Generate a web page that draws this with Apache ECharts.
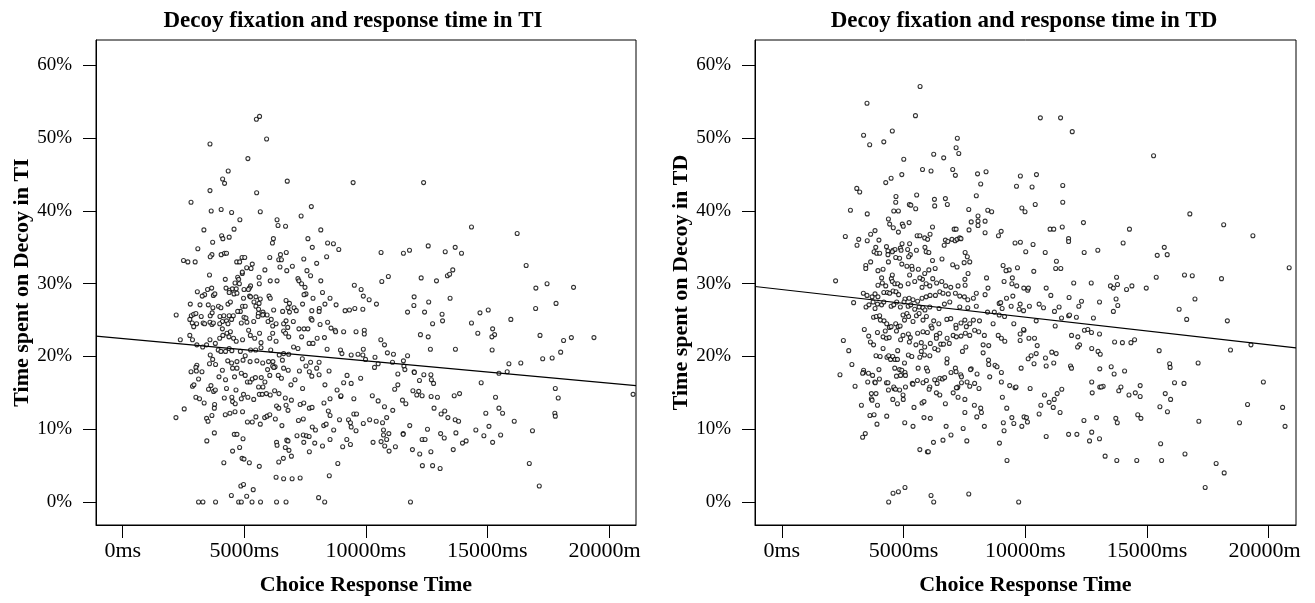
<!DOCTYPE html>
<html><head><meta charset="utf-8">
<script src="https://cdn.jsdelivr.net/npm/echarts@6/dist/echarts.min.js"></script>
<style>
html,body{margin:0;padding:0;background:#fff;width:1315px;height:603px;overflow:hidden;position:relative}
#ti{position:absolute;left:0;top:0;width:641px;height:603px;overflow:hidden}
#td{position:absolute;left:655px;top:0;width:646px;height:603px;overflow:hidden}
</style></head><body><div id="ti"></div><div id="td"></div>
<script>
const xTicks=[0,5000,10000,15000,20000];
const yTicks=[0,10,20,30,40,50,60];
const xRange=[-1100,21120];
const yRange=[-3.16,63.5];
const titles=['Decoy fixation and response time in TI','Decoy fixation and response time in TD'];
const yNames=['Time spent on Decoy in TI','Time spent on Decoy in TD'];
const xName='Choice Response Time';
const tiFit={intercept:22.47,slope:-0.000307};
const tdFit={intercept:29.2,slope:-0.00038};
const tiPoints=[
[5500,52.6],[5630,53.0],[5920,49.9],[3590,49.2],[5150,47.2],[4340,45.5],[4110,44.4],[4190,43.8],[6770,44.1],[9480,43.9],[3590,42.8],[5510,42.5],[2810,41.2],[3640,40.0],[4050,40.2],[4480,39.8],[5660,39.9],[7760,40.6],[7340,39.3],[4820,38.8],[6350,38.8],[6390,38.0],[6700,37.9],[3340,37.4],[4580,37.5],[8150,37.4],[4070,36.6],[4120,36.2],[4380,36.4],[3700,35.7],[6200,36.2],[6160,35.6],[7620,36.2],[8430,35.6],[8670,35.5],[7800,35.0],[8890,34.7],[3090,34.8],[3670,34.0],[3600,33.7],[4050,34.0],[4190,34.2],[4270,34.2],[2500,33.2],[2680,33.0],[2980,33.0],[6050,33.6],[6490,34.0],[6730,34.3],[6420,33.3],[6530,33.3],[7450,33.4],[8390,33.7],[4910,33.6],[5020,33.6],[4690,33.0],[4810,33.0],[5330,32.7],[4920,31.4],[4920,31.6],[5100,32.2],[5280,32.1],[6470,32.3],[6980,32.4],[6750,31.8],[5850,31.9],[7980,32.8],[7580,31.8],[7730,31.1],[3570,31.2],[4220,30.6],[4730,30.9],[4770,30.6],[5610,30.9],[7210,30.7],
[12380,43.9],[14350,37.8],[16230,36.9],[10630,34.3],[11550,34.2],[11800,34.6],[12570,35.2],[13270,34.4],[13680,35.0],[13940,34.2],[16600,32.5],[10930,31.0],[12280,30.8],[13360,31.1],[13450,31.3],[13580,31.9],
[4620,30.1],[4800,30.0],[5260,29.7],[5210,29.4],[5620,30.0],[6070,30.4],[6350,30.4],[7250,30.4],[7500,29.5],[7360,30.0],[8150,30.4],[9530,29.8],[3660,29.4],[3490,29.2],[3070,28.9],[3370,28.5],[3270,28.3],[3730,28.4],[3790,28.6],[4250,29.4],[4400,29.1],[4510,29.3],[4670,29.3],[4380,28.8],[4580,28.6],[4700,28.7],[4990,29.2],[5170,29.2],[5220,28.3],[5260,28.2],[4970,28.0],[5480,28.2],[5660,27.9],[6020,28.3],[6070,28.0],[7830,28.0],[8220,28.8],[8530,28.0],[7540,28.6],[7460,28.5],
[2780,27.2],[3180,27.1],[3520,27.1],[3710,26.7],[3940,26.9],[4040,26.7],[4330,27.2],[4430,27.5],[4930,26.9],[5040,26.9],[4840,26.2],[4730,26.2],[4990,25.4],[5400,27.5],[5610,27.3],[5480,26.9],[5590,26.5],[5770,26.1],[5580,25.9],[5800,25.8],[5940,25.7],[6210,26.4],[6580,26.2],[6720,27.7],[6860,27.3],[6800,26.7],[6860,26.1],[7050,26.7],[7140,26.3],[7400,27.2],[7780,26.3],[8090,26.6],[8080,26.2],[8320,27.2],[8780,27.1],[9150,26.3],[9330,26.4],[9550,26.6],[2200,25.7],[2820,25.6],[2920,25.8],[3010,25.9],[3230,25.5],[3600,25.6],[3680,26.0],[4000,25.5],[4160,25.6],[4380,25.6],[4550,25.6],[4480,25.1],[4270,24.9],[4330,24.5],[4100,24.8],[3990,24.5],[4100,23.8],[3590,24.7],[3670,24.4],[3730,24.6],[3310,24.6],[3370,24.5],[3040,24.5],[2760,25.1],[2860,24.6],[2920,24.1],[4880,24.6],[5070,25.3],[5110,24.7],[5390,24.8],[5570,25.5],[5760,25.7],[5980,24.8],[6110,25.1],[6170,24.2],[6310,24.5],[6620,24.5],[6620,23.5],[6720,24.9],[6790,24.0],[7020,24.8],[7250,23.8],[7460,23.8],[7620,23.8],[7750,25.2],[7790,25.0],[8120,24.4],[8430,24.7],[8570,23.9],[8740,23.6],[8760,23.4],[9090,23.4],[9600,23.4],
[2370,22.3],[2870,22.3],[2760,22.9],[3050,21.6],[3290,21.3],[3450,21.6],[3590,22.3],[3810,21.8],[3990,22.5],[4120,22.9],[4290,23.2],[4430,23.4],[4370,22.7],[4560,22.5],[4670,22.1],[4930,22.3],[5180,23.6],[5250,22.9],[5430,22.5],[5630,23.2],[5690,21.9],[6050,22.5],[6170,23.2],[6310,22.1],[6700,23.2],[6830,22.7],[7030,21.3],[7210,21.1],[7360,22.7],[7670,21.8],[7830,21.8],[8000,22.5],[8300,22.6],[8410,21.0],[8960,20.9],[9020,20.4],[9400,20.2],[9680,20.3],
[3600,20.2],[3700,19.6],[3930,20.9],[4040,20.7],[4230,20.7],[4380,21.1],[4490,20.8],[4840,20.7],[5040,20.1],[5260,20.9],[5470,20.9],[5690,21.2],[6090,20.9],[6440,20.2],[6620,20.4],[6830,20.3],[3050,18.8],[3010,18.5],[3820,18.9],[3570,19.0],[4320,19.4],[4480,19.1],[4700,19.3],[4950,19.5],[5240,19.3],[5520,19.4],[5760,19.1],[6000,19.3],[6180,19.3],[6270,18.6],[6570,19.5],[7390,19.7],[7730,19.2],[8080,19.2],
[2810,17.9],[3030,18.0],[3260,17.9],[3120,16.9],[2870,15.9],[2930,16.1],[3530,15.5],[3740,15.2],[3630,16.0],[3810,15.4],[3960,17.2],[4100,18.1],[4230,16.8],[4270,15.6],[4520,18.4],[4600,17.2],[4700,18.4],[4880,17.7],[5040,17.4],[5130,16.5],[5240,16.5],[5330,16.9],[5460,17.1],[5700,17.1],[5770,15.8],[5590,15.8],[5850,16.5],[6170,18.7],[6220,18.5],[5960,18.2],[6050,17.4],[6400,17.4],[6530,17.0],[6620,18.4],[6810,18.1],[6920,16.1],[7090,16.8],[7270,18.0],[7400,15.6],[7540,18.7],[7680,17.9],[7780,17.3],[7980,18.4],[8080,17.5],[8320,16.1],[8490,18.0],[8530,14.2],[8820,15.4],[8970,14.5],[9090,16.4],[9230,17.4],[9400,16.3],[9510,14.2],
[3010,14.4],[3160,14.2],[3350,13.6],[3780,13.4],[3770,12.9],[4180,14.3],[4520,13.8],[4630,13.5],[4490,14.4],[4660,15.4],[4880,14.2],[4970,14.8],[5150,14.4],[5390,14.1],[5620,14.8],[5740,14.8],[5910,14.9],[6070,14.7],[6250,15.3],[6430,14.9],[6690,14.3],[6330,13.2],[6420,12.9],[6720,13.3],[6800,12.6],[6940,14.0],[7300,13.4],[7450,13.6],[7680,12.9],[7790,13.0],[8280,13.6],[8460,12.5],[8980,14.6],[9510,12.1],[9620,12.1],
[2190,11.6],[2530,12.8],[3450,11.5],[3510,11.1],[3670,11.9],[4220,12.0],[4410,12.2],[4620,12.4],[4930,12.4],[5130,11.0],[5330,11.0],[5480,11.7],[5660,10.7],[5840,11.6],[5940,11.8],[6050,12.0],[6280,11.4],[6550,10.5],[7230,11.2],[7430,11.4],[7800,10.3],[7930,9.9],[8270,10.5],[8370,10.7],[8530,11.9],[8680,9.9],[8920,11.3],[9290,11.3],[9370,10.9],[9400,10.3],[9600,9.8],
[3460,8.4],[3770,9.5],[4590,9.3],[4700,9.3],[4950,8.7],[4810,7.5],[4520,7.0],[4160,5.4],[4910,6.0],[4990,5.9],[5210,5.4],[5620,4.9],[6330,8.2],[6350,7.8],[6750,8.5],[6800,8.4],[6690,7.5],[6840,7.1],[6940,6.3],[6610,6.0],[6420,5.5],[7170,9.1],[7430,9.2],[7560,9.1],[7670,9.0],[7450,8.2],[7680,6.9],[7900,8.1],[8220,7.7],[8530,8.6],[9220,8.6],[9370,7.9],[9050,7.6],[8850,5.3],[8500,3.6],[6310,3.4],[6620,3.2],[6970,3.2],[7300,3.3],[4860,2.2],[4970,2.4],[5370,1.7],[4470,0.9],[5100,0.8],[3120,0],[3300,0],[3820,0],[4770,0],[4880,0],[5320,0],[5670,0],[6330,0],[6720,0],[8060,0.6],[8310,0],
[10660,30.3],[12910,30.4],[17000,29.4],[17460,30.0],[18550,29.5],[9810,29.2],[9900,28.3],[10140,27.8],[10440,27.2],[9880,26.5],[11990,28.2],[11980,27.0],[12590,27.5],[13470,28.0],[11720,26.1],[12420,26.1],[13140,25.8],[13160,24.9],[12750,24.5],[14350,24.6],[14700,26.0],[15040,26.4],[14610,23.2],[15220,23.8],[15300,23.0],[15190,22.7],[15970,25.1],[16990,26.6],[17830,27.3],[17170,22.9],[18140,22.2],[18460,22.6],[19390,22.6],[18020,20.6],[17670,19.8],[17280,19.7],[16380,19.1],[15890,19.0],
[9940,23.6],[9940,23.1],[10620,22.3],[10770,21.6],[9900,21.0],[10890,20.5],[11140,20.3],[11720,20.1],[9880,20.2],[10380,19.9],[9990,19.6],[10510,19.0],[10360,18.5],[11100,19.2],[11550,19.4],[11570,18.7],[11610,18.2],[11320,17.6],[11990,17.9],[12000,17.8],[12390,17.5],[12680,17.5],[12210,16.7],[12700,16.8],[12790,16.3],[12570,22.7],[12250,23.0],[12660,21.0],[13690,21.0],[15200,20.9],[15480,17.7],[15820,17.9],[14750,16.4],[9790,17.0],[17800,15.6],[17920,14.3],[21000,14.8],
[11320,16.1],[11190,15.5],[10270,14.6],[10510,13.9],[10770,13.1],[11110,12.6],[11510,14.0],[11650,13.5],[11940,15.3],[12180,15.2],[12100,14.7],[12320,14.6],[12690,14.5],[12950,14.4],[13640,14.6],[13860,14.9],[12810,12.9],[13100,12.1],[13250,12.5],[13380,11.6],[13680,11.3],[13820,11.1],[15340,14.4],[15480,12.9],[15630,12.2],[14940,12.2],[16110,11.1],[17780,12.2],[17800,11.8],
[9900,10.8],[10160,11.3],[10430,11.1],[10690,10.9],[10860,11.6],[11810,10.5],[11540,9.4],[11540,9.3],[12540,10.0],[10950,9.4],[10730,9.2],[10860,8.6],[10730,9.9],[10300,8.2],[10630,8.3],[10780,7.7],[10960,7.0],[11220,7.6],[12320,8.6],[12440,8.6],[13080,9.4],[13230,8.8],[13710,9.5],[14530,9.9],[15070,10.4],[14860,9.1],[15550,9.2],[15220,8.2],[14130,8.4],[13980,8.1],[13600,7.2],[11920,7.2],[12220,6.6],[12680,6.9],[12330,5.0],[12750,5.0],[13060,4.6],[16860,9.8],[16730,5.3],[17140,2.2],[11840,0]
];
const tdPoints=[
[5680,57.1],[3500,54.8],[5490,53.1],[4540,51.0],[3360,50.4],[3610,49.1],[4190,49.5],[7210,50.0],[7160,48.7],[7270,47.9],[6240,47.8],[6650,47.3],[5010,47.1],[5780,45.7],[6130,45.5],[7020,45.7],[7130,44.9],[4930,45.0],[4490,44.5],[4270,43.9],[8040,45.1],[8390,45.4],[8170,43.7],[3080,43.1],[3200,42.6],[4690,42.0],[5540,42.2],[7990,42.1],[4680,41.2],[5240,40.9],[5300,40.8],[5500,40.3],[6270,41.6],[6720,41.7],[6800,40.9],[6280,40.7],[2820,40.1],[3510,39.6],[4600,40.0],[4790,40.0],[7680,40.2],[8460,40.1],[8620,39.9],[8060,39.3],[7780,38.5],[8060,38.6],[8060,38.0],[8350,38.6],[4380,38.9],[4430,38.2],[4580,37.7],[4790,37.1],[4950,38.2],[4990,37.9],[5230,38.4],[6190,37.8],[7080,37.5],[7160,37.5],[7690,37.4],[8350,37.0],
[2610,36.5],[3160,36.1],[3510,35.9],[3830,37.3],[3650,36.8],[3990,36.0],[5560,36.6],[5670,36.6],[6090,36.8],[5870,36.3],[5990,36.1],[6990,36.1],[7120,35.9],[7200,36.1],[7310,36.3],[7360,36.2],[6720,36.0],[6820,35.8],[6670,35.3],[8900,36.6],[9010,37.2],[3090,35.3],[3860,35.0],[3790,34.4],[3900,34.2],[4300,35.1],[4360,34.5],[4570,34.6],[4650,34.7],[4870,34.9],[4940,35.5],[5250,35.5],[4900,34.6],[5170,34.7],[5280,34.0],[5210,33.7],[5530,34.6],[5880,35.0],[5930,34.4],[6040,34.3],[7530,34.3],[7620,33.7],[7720,33.0],[7490,32.9],[7020,32.6],[7200,32.3],[6580,33.4],[6300,32.1],[6190,33.2],[6040,31.9],[5870,31.4],[5610,32.0],[5340,32.4],[5360,32.0],[5140,32.4],[4930,32.7],[4840,33.5],[4680,33.6],[4540,34.4],[4360,34.0],[4380,33.0],[4020,34.2],[3950,31.8],[4160,32.0],[3450,32.5],[3450,32.1],[3650,33.0],[8410,30.8],[9090,32.5],[9340,31.9],[9210,31.8],[9680,32.2],[9640,43.4],[9580,35.6],[9470,30.8],[7650,31.4],[7520,30.6],[6200,30.7],[5780,30.6],[5670,30.8],[4500,30.7],[4100,30.8],[5250,31.2],[4540,31.2],
[2210,30.4],[3950,29.8],[4130,30.1],[4270,29.7],[4540,30.3],[4640,30.0],[4760,30.0],[4880,29.7],[5190,30.0],[5460,30.3],[5760,29.5],[5930,30.0],[6080,29.7],[6360,30.1],[6570,30.3],[6730,29.7],[6940,29.5],[7240,29.7],[7530,29.8],[7990,28.7],[8350,28.5],[8470,29.4],[9130,30.3],[9450,30.0],[9650,29.7],[3350,28.7],[3500,28.4],[3710,28.2],[3830,28.6],[3950,28.2],[4190,28.8],[4340,28.8],[4430,28.7],[4570,29.0],[4690,28.9],[4800,28.5],[5060,27.9],[5230,28.0],[5390,27.8],[5580,27.6],[5760,28.0],[5930,28.2],[6090,28.4],[6310,28.4],[6490,28.9],[6620,28.7],[6840,28.6],[7130,28.7],[7310,28.3],[7500,28.2],[7640,27.8],[7870,28.0],[2950,27.4],[3460,26.8],[3580,27.1],[3750,27.5],[3830,26.6],[3930,27.2],[4100,27.1],[4190,27.5],[4490,26.9],[4600,27.1],[4720,27.5],[4870,26.8],[5020,27.5],[5190,26.9],[5300,27.1],[5460,26.5],[5640,26.8],[5800,26.7],[5880,26.4],[6080,26.8],[6460,26.6],[6680,27.2],[6900,27.5],[7310,26.8],[7640,26.7],[7990,26.9],[8450,26.1],[8730,26.1],[8930,27.3],[9050,26.6],[9230,28.0],[9420,26.9],[9490,28.3],[9750,26.5],[8990,27.4],
[3390,23.7],[3570,22.8],[3640,22.0],[3770,21.6],[3770,25.4],[3880,25.5],[4020,25.6],[4050,25.0],[4200,24.9],[4250,23.5],[4310,24.5],[4420,24.0],[4490,24.1],[4680,24.5],[4780,24.1],[4860,24.2],[4980,25.7],[5040,25.0],[5140,25.9],[5210,25.5],[5390,24.8],[5530,25.6],[5640,25.9],[5800,25.0],[5940,25.5],[6130,24.2],[6240,24.9],[6450,24.5],[6780,25.1],[6940,25.2],[7150,24.3],[7160,23.9],[7360,24.6],[7520,25.0],[7580,24.1],[7720,24.5],[7870,25.0],[8120,24.9],[8680,24.5],[8930,25.7],[9150,25.5],[9530,24.5],[3930,23.3],[4160,22.7],[4300,22.5],[4410,22.6],[4710,23.5],[4980,22.9],[5200,23.1],[5280,22.6],[5580,23.2],[5800,23.4],[5980,23.3],[6170,23.9],[6350,22.9],[6490,23.2],[6790,22.5],[7040,22.9],[7170,22.7],[7360,22.8],[7540,23.2],[7720,22.9],[7920,23.6],[8090,23.4],[8320,22.9],[8270,21.6],[8500,21.5],[8890,22.9],[9020,22.5],[9160,22.1],[4880,22.3],[5240,22.0],[5510,21.6],[5730,21.9],[5870,21.3],[6100,21.8],[6350,22.5],
[2530,22.2],[2750,20.8],[2880,18.9],[2390,17.5],[3010,15.9],[3360,18.1],[3360,17.8],[3560,17.7],[3730,17.4],[3820,16.5],[3990,18.2],[3870,20.1],[4040,20.0],[4160,21.1],[4320,19.9],[4390,20.1],[4470,19.6],[4560,20.0],[4650,19.6],[4640,18.4],[4750,19.6],[4760,20.8],[4840,18.2],[4930,18.1],[5040,19.1],[5060,17.8],[4880,17.4],[5080,17.4],[5200,20.2],[5340,20.0],[5600,18.4],[5670,19.9],[5730,20.7],[5860,20.2],[5940,18.4],[5990,18.0],[6080,20.1],[6280,21.1],[6420,20.9],[6530,21.7],[6640,21.7],[6790,19.7],[6880,21.8],[6780,19.1],[6950,17.8],[7130,18.4],[7160,17.9],[7350,17.5],[7380,16.4],[7230,15.8],[7420,20.7],[7560,21.3],[7780,18.3],[8020,17.6],[8270,20.5],[8490,19.5],[8500,18.9],[8760,18.8],[8840,18.6],[9020,17.8],[8540,17.2],[9020,16.5],[9360,16.0],[9580,15.7],
[3320,17.7],[3530,16.5],[3680,14.9],[3840,16.4],[4010,16.9],[4300,16.4],[4360,16.4],[4610,15.6],[4710,17.3],[4840,15.4],[5080,15.8],[5360,16.3],[5390,16.2],[5570,16.7],[5800,16.4],[5940,16.7],[6080,15.8],[6280,16.8],[6380,16.3],[6490,17.0],[6600,16.9],[6690,17.1],[7040,15.0],[7200,15.7],[7380,17.2],[7610,16.5],[7720,15.9],[7920,16.3],[8100,15.6],
[3680,14.2],[3710,14.0],[3870,14.9],[3270,13.3],[3930,13.3],[4310,11.8],[3620,11.9],[3790,12.0],[3910,10.7],[4380,15.4],[4600,15.8],[4670,15.5],[4560,14.1],[4750,13.5],[4980,14.7],[4990,14.1],[5050,10.9],[5390,10.4],[5430,13.0],[5760,13.6],[5840,13.8],[5840,11.6],[6100,11.5],[6050,15.5],[6350,15.0],[6490,14.7],[6720,13.5],[6750,10.4],[6950,9.2],[6620,8.5],[6230,8.2],[5670,7.2],[5980,6.9],[6020,6.9],[7170,15.7],[7240,14.4],[7520,14.1],[7520,12.3],[7450,10.1],[7600,8.4],[7750,18.2],[7910,13.3],[8010,11.7],[8170,12.9],[8200,12.3],[8320,10.4],[8940,8.1],[9060,14.4],[9100,10.9],[9130,9.8],[9240,12.9],[9250,5.7],[9450,11.6],[9530,10.8],[9620,15.8],[3320,8.9],[3430,9.4],
[4390,0],[4570,1.2],[4790,1.4],[5060,2.0],[6130,0.9],[6240,0],[7680,1.1],[9730,0],
[10620,52.8],[11450,52.8],[11930,50.9],[15270,47.6],[9800,44.8],[10460,45.0],[10280,43.3],[11540,43.5],[11540,41.2],[9860,40.4],[9990,39.9],[10410,40.9],[16760,39.6],[18150,38.1],[19350,36.6],[12390,38.4],[11020,37.5],[11170,37.5],[11520,37.8],[14280,37.5],[11780,36.2],[11780,35.8],[9800,35.7],[10320,35.4],[10020,34.4],[10820,34.3],[12420,34.3],[12980,34.6],[14020,35.6],[15710,35.0],[15420,33.9],[15830,34.0],[11280,33.1],[11250,32.1],[11460,32.1],[10350,31.7],[20840,32.2],[15380,30.9],[16540,31.2],[16860,31.1],[18060,30.7],[13750,30.9],
[9940,29.4],[10100,29.1],[10130,29.4],[10860,29.4],[11050,28.4],[11990,30.1],[12710,30.1],[13500,29.7],[13620,29.4],[13790,29.9],[14160,29.2],[14380,29.7],[14970,29.4],[9790,27.2],[10170,26.9],[9930,26.3],[10570,27.2],[10750,26.7],[11200,26.2],[11390,26.8],[11800,28.1],[12200,26.9],[12310,27.6],[13050,27.5],[13730,27.9],[13800,27.0],[13620,26.2],[16970,27.9],[16320,26.5],[16630,25.1],[18300,24.9],[11490,25.3],[11780,25.6],[11820,25.7],[12100,25.4],[12800,25.3],[10450,24.9],[11230,24.2],[9950,23.6],[9930,23.7],[9790,23.1],[10150,22.5],[10380,22.5],[9790,22.2],[10490,21.5],[11900,22.9],[12160,22.7],[12430,23.6],[12570,23.7],[12720,23.3],[13050,23.1],[12230,21.6],[12150,21.3],[12730,21.1],[12990,20.7],[13080,20.3],[13670,22.0],[13990,21.9],[14340,21.9],[14490,22.3],[15500,20.8],[18430,20.9],[19270,21.6],
[10450,20.4],[10240,20.1],[10120,19.7],[11090,20.6],[11270,20.4],[10830,19.8],[10360,19.0],[10860,18.7],[11170,19.1],[9830,18.4],[11860,18.7],[11900,18.4],[13060,18.3],[13530,18.6],[13650,17.6],[14080,18.0],[15930,19.0],[15950,18.5],[17100,19.1],[16130,16.4],[16520,16.3],[19780,16.5],[12730,16.5],[12750,15.0],[13060,15.8],[13200,15.9],[13120,15.8],[13840,15.3],[13930,15.8],[14260,14.7],[14520,15.0],[14720,16.0],[14720,14.5],[10200,15.6],[10790,14.7],[11310,14.9],[11500,15.5],[10980,13.7],[11190,14.1],[11150,13.0],[10640,13.3],[10570,12.1],[11430,12.3],[9950,11.7],[10050,11.6],[10090,11.0],[9860,10.4],[12410,11.2],[12930,11.6],[13720,11.5],[13780,10.9],[14620,12.0],[14750,11.5],[15750,14.9],[15970,14.1],[15530,13.1],[15840,12.4],[17130,11.1],[18800,10.9],[19130,13.4],[20570,13.0],[20670,10.4],
[10860,9.0],[11780,9.3],[12120,9.3],[12640,8.4],[12730,9.6],[13050,8.7],[13280,6.3],[13760,5.7],[14580,5.7],[15560,8.0],[15600,5.7],[16560,6.6],[17840,5.3],[18170,4.0],[17390,2.0]
];

const FONT='"Liberation Serif","Times New Roman",serif';
function makeOption(idx, points, fit, gridLeft, gridWidth, titleX){
  const fitLine=[[xRange[0],fit.intercept+fit.slope*xRange[0]],[xRange[1],fit.intercept+fit.slope*xRange[1]]];
  return {
    animation:false,
    backgroundColor:'#fff',
    title:{text:titles[idx],left:titleX,top:5,textAlign:'center',
      textStyle:{fontFamily:FONT,fontWeight:'bold',fontSize:23,color:'#000'}},
    grid:{left:gridLeft,top:40,width:gridWidth,height:485,show:true,borderColor:'#000',borderWidth:1,
      outerBoundsMode:'none',containLabel:false},
    xAxis:{type:'value',min:xRange[0],max:xRange[1],
      name:xName,nameLocation:'middle',nameGap:49,nameMoveOverlap:false,
      nameTextStyle:{fontFamily:FONT,fontWeight:'bold',fontSize:22,color:'#000'},
      axisLine:{show:true,onZero:false,lineStyle:{color:'#000',width:1}},
      axisTick:{show:true,inside:false,length:13,customValues:xTicks,lineStyle:{color:'#000'}},
      axisLabel:{customValues:xTicks,formatter:v=>v+'ms',margin:15,fontFamily:FONT,fontSize:22,color:'#000',hideOverlap:false},
      splitLine:{show:false}},
    yAxis:{type:'value',min:yRange[0],max:yRange[1],
      name:yNames[idx],nameLocation:'middle',nameGap:63,nameMoveOverlap:false,
      nameTextStyle:{fontFamily:FONT,fontWeight:'bold',fontSize:22,color:'#000'},
      axisLine:{show:true,onZero:false,lineStyle:{color:'#000',width:1}},
      axisTick:{show:true,inside:false,length:13,customValues:yTicks,lineStyle:{color:'#000'}},
      axisLabel:{customValues:yTicks,formatter:v=>v+'%',margin:24,fontFamily:FONT,fontSize:19,color:'#000'},
      splitLine:{show:false}},
    series:[
      {type:'scatter',data:points,symbol:'circle',symbolSize:4,
        itemStyle:{color:'#fff',borderColor:'#000',borderWidth:1.1},z:2,silent:true},
      {type:'line',data:fitLine,symbol:'none',clip:true,
        lineStyle:{color:'#000',width:1.2},z:3,silent:true}
    ]
  };
}
const c1=echarts.init(document.getElementById('ti'),null,{renderer:'canvas'});
c1.setOption(makeOption(0,tiPoints,tiFit,96,540,348));
const c2=echarts.init(document.getElementById('td'),null,{renderer:'canvas'});
c2.setOption(makeOption(1,tdPoints,tdFit,100,541,364));
</script>
</body></html>
